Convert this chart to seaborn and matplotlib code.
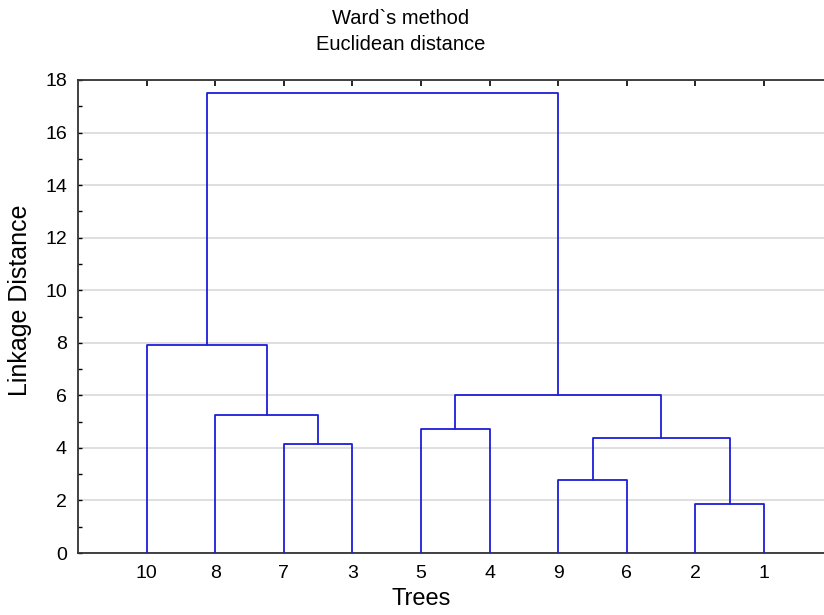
import pandas as pd
import matplotlib
matplotlib.use("Agg")
import matplotlib.pyplot as plt
import seaborn as sns

# Leaf order along the x axis and the merge steps (Ward, Euclidean)
leaf_labels = ["10", "8", "7", "3", "5", "4", "9", "6", "2", "1"]
merge_left = ["2", "9", "7", "C2", "5", "8", "C5", "10", "C8"]
merge_right = ["1", "6", "3", "C1", "4", "C3", "C4", "C6", "C7"]
merge_height = [1.86, 2.78, 4.16, 4.36, 4.71, 5.25, 6.0, 7.93, 17.5]
y_ticks = [0, 2, 4, 6, 8, 10, 12, 14, 16, 18]

# -------------------------------
# Build U-shaped link segments
# -------------------------------
pos = {lab: i + 1 for i, lab in enumerate(leaf_labels)}
height = {lab: 0.0 for lab in leaf_labels}
rows = []
for k, (a, b, h) in enumerate(zip(merge_left, merge_right, merge_height)):
    xa, xb = pos[a], pos[b]
    pts = [(xa, height[a]), (xa, h), (xb, h), (xb, height[b])]
    for j, (x, y) in enumerate(pts):
        rows.append({"link": k, "order": j, "x": x, "y": y})
    name = f"C{k + 1}"
    pos[name] = (xa + xb) / 2
    height[name] = h
links = pd.DataFrame(rows)

sns.set_style("white")
plt.rcParams["font.family"] = ["Liberation Sans", "DejaVu Sans"]
plt.rcParams["text.color"] = "black"
plt.rcParams["axes.labelcolor"] = "black"
plt.rcParams["xtick.color"] = "black"
plt.rcParams["ytick.color"] = "black"

fig = plt.figure(figsize=(8.24, 6.15), dpi=100)
ax = fig.add_axes([78 / 824, 62 / 615, 754.6 / 824, 473 / 615])

sns.lineplot(data=links, x="x", y="y", units="link", estimator=None,
             sort=False, color="#1e1ed8", linewidth=1.3, ax=ax, zorder=3)

ax.set_xlim(0, 11)
ax.set_ylim(0, 18)
ax.set_xticks(range(1, len(leaf_labels) + 1))
ax.set_xticklabels(leaf_labels)
ax.set_yticks(y_ticks)
ax.set_yticks([v + 1 for v in y_ticks[:-1]], minor=True)
ax.yaxis.grid(True, color="#d9d9d9", linewidth=1.2)
ax.set_axisbelow(True)

ax.tick_params(axis="x", bottom=False, top=True, labelbottom=True,
               direction="in", length=4, width=1.2, labelsize=14, pad=9)
ax.tick_params(axis="y", which="major", left=True, direction="in",
               length=3, width=1, labelsize=14, pad=8)
ax.tick_params(axis="y", which="minor", left=True, direction="in",
               length=3, width=1)

for side in ["top", "bottom", "left", "right"]:
    ax.spines[side].set_color("#333333")
    ax.spines[side].set_linewidth(1.3)

ax.set_xlabel("Trees", fontsize=17)
ax.xaxis.set_label_coords((421 - 78) / 754.6, -0.075)
ax.set_ylabel("Linkage Distance", fontsize=18, va="center")
ax.yaxis.set_label_coords(-0.077, 0.535)

fig.text(401 / 824, 1 - 18 / 615, "Ward`s method", ha="center", va="center",
         fontsize=14.5)
fig.text(401 / 824, 1 - 45 / 615, "Euclidean distance", ha="center",
         va="center", fontsize=14.5)

fig.savefig("out.png", dpi=100)
